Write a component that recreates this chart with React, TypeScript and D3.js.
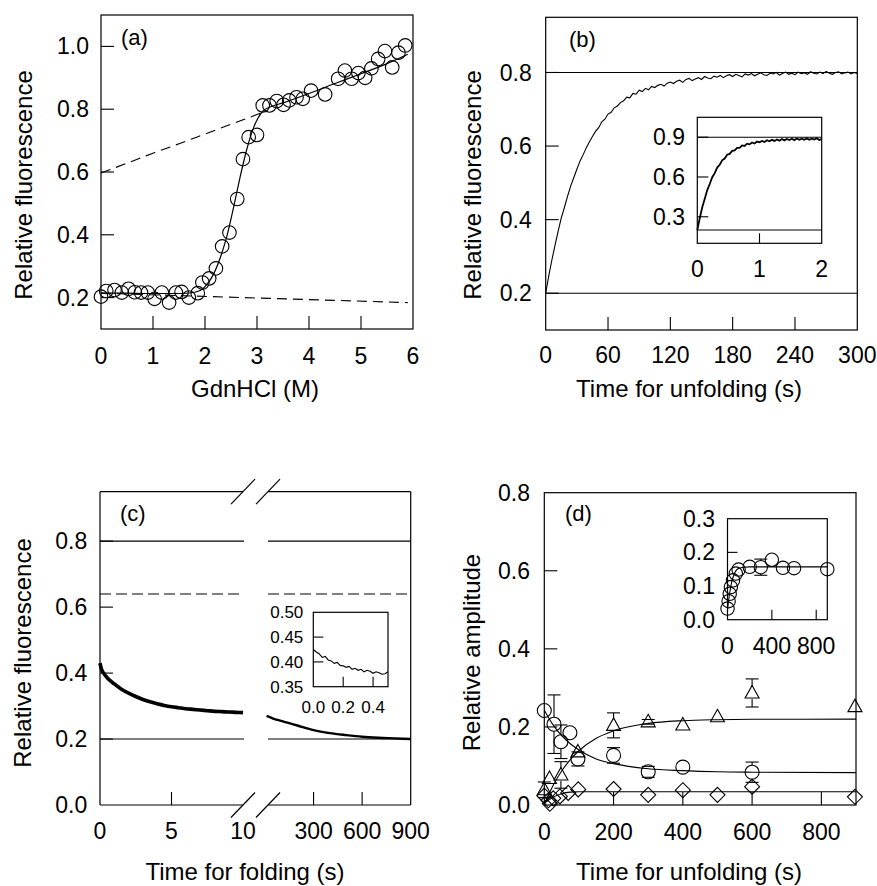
import React from "react";
import * as d3 from "d3";

const FONT = '"Liberation Sans", Arial, Helvetica, sans-serif';

// ---------------- Panel (a) ----------------
const aGdn = [0, 0.1, 0.26, 0.4, 0.53, 0.65, 0.77, 0.9, 1.03, 1.17, 1.31, 1.44, 1.55, 1.69, 1.86, 1.95, 2.08, 2.21, 2.33, 2.47, 2.62, 2.73, 2.84, 3.0, 3.11, 3.24, 3.38, 3.51, 3.62, 3.76, 3.88, 4.04, 4.31, 4.56, 4.69, 4.82, 4.95, 5.08, 5.2, 5.33, 5.46, 5.6, 5.72, 5.85];
const aFluor = [0.203, 0.221, 0.224, 0.216, 0.228, 0.217, 0.216, 0.216, 0.196, 0.216, 0.184, 0.216, 0.218, 0.2, 0.214, 0.248, 0.261, 0.293, 0.363, 0.407, 0.514, 0.641, 0.711, 0.718, 0.812, 0.812, 0.826, 0.814, 0.828, 0.838, 0.833, 0.859, 0.847, 0.897, 0.923, 0.897, 0.915, 0.9, 0.93, 0.96, 0.985, 0.933, 0.98, 1.003];
const aFitGdn = [0, 0.5, 1, 1.5, 1.8, 2.0, 2.15, 2.3, 2.42, 2.54, 2.67, 2.8, 2.92, 3.02, 3.12, 3.25, 3.5, 4, 4.5, 5, 5.5, 5.9];
const aFitFluor = [0.215, 0.214, 0.213, 0.213, 0.217, 0.235, 0.27, 0.33, 0.395, 0.48, 0.58, 0.67, 0.735, 0.772, 0.795, 0.807, 0.82, 0.85, 0.882, 0.913, 0.945, 0.975];
const aUnfBaseGdn = [0, 0.5, 1, 1.5, 2, 2.5, 3, 3.15];
const aUnfBaseFluor = [0.597, 0.628, 0.66, 0.69, 0.721, 0.752, 0.783, 0.793];
const aNatBaseGdn = [0, 5.9];
const aNatBaseFluor = [0.214, 0.184];
const aXTicks = [0, 1, 2, 3, 4, 5, 6];
const aYTicks = [0.2, 0.4, 0.6, 0.8, 1.0];

// ---------------- Panel (b) ----------------
const bTraceStep = 3;
const bTrace = [
  0.200, 0.248, 0.291, 0.331, 0.369, 0.405, 0.433, 0.463, 0.491, 0.514,
  0.537, 0.559, 0.576, 0.595, 0.611, 0.626, 0.640, 0.650, 0.666, 0.673,
  0.687, 0.692, 0.704, 0.709, 0.718, 0.723, 0.733, 0.731, 0.743, 0.741,
  0.752, 0.748, 0.757, 0.753, 0.762, 0.759, 0.765, 0.768, 0.763, 0.771,
  0.774, 0.770, 0.776, 0.779, 0.773, 0.781, 0.784, 0.778, 0.782, 0.786,
  0.781, 0.789, 0.785, 0.783, 0.790, 0.787, 0.792, 0.786, 0.791, 0.794,
  0.789, 0.795, 0.792, 0.788, 0.796, 0.793, 0.797, 0.791, 0.795, 0.799,
  0.794, 0.792, 0.798, 0.796, 0.800, 0.793, 0.797, 0.801, 0.795, 0.798,
  0.794, 0.801, 0.797, 0.799, 0.795, 0.802, 0.798, 0.796, 0.801, 0.797,
  0.803, 0.798, 0.795, 0.800, 0.802, 0.796, 0.799, 0.801, 0.796, 0.800, 0.797,
];
const bLevels = [0.2, 0.8];
const bXTicks = [0, 60, 120, 180, 240, 300];
const bYTicks = [0.2, 0.4, 0.6, 0.8];
const bInsetStep = 0.04;
const bInset = [
  0.200, 0.291, 0.372, 0.436, 0.501, 0.547, 0.598, 0.629, 0.671, 0.692,
  0.726, 0.739, 0.768, 0.774, 0.797, 0.801, 0.820, 0.819, 0.838, 0.834,
  0.851, 0.846, 0.860, 0.852, 0.867, 0.861, 0.872, 0.864, 0.877, 0.869,
  0.880, 0.872, 0.883, 0.874, 0.886, 0.876, 0.887, 0.879, 0.888, 0.878,
  0.890, 0.880, 0.889, 0.881, 0.891, 0.880, 0.889, 0.882, 0.892, 0.879, 0.887,
];
const bInsetLevels = [0.2, 0.9];
const bInsetXTicks = [0, 1, 2];
const bInsetYTicks = [0.3, 0.6, 0.9];

// ---------------- Panel (c) ----------------
const cLeftT = [0, 0.1, 0.25, 0.5, 1, 1.5, 2, 2.5, 3, 3.5, 4, 4.5, 5, 5.5, 6, 6.5, 7, 7.5, 8, 8.5, 9, 9.5, 10];
const cLeftF = [0.43, 0.412, 0.4, 0.386, 0.367, 0.351, 0.339, 0.329, 0.32, 0.313, 0.307, 0.302, 0.298, 0.295, 0.292, 0.29, 0.288, 0.286, 0.284, 0.283, 0.282, 0.281, 0.28];
const cRightT = [10, 50, 100, 150, 200, 300, 400, 500, 600, 700, 800, 900];
const cRightF = [0.27, 0.262, 0.255, 0.248, 0.241, 0.227, 0.218, 0.212, 0.207, 0.204, 0.202, 0.2];
const cSolidLevels = [0.2, 0.8];
const cDashedLevel = 0.64;
const cLeftTicks = [0, 5, 10];
const cRightTicks = [300, 600, 900];
const cYTicks = [0, 0.2, 0.4, 0.6, 0.8];
const cInsetStep = 0.02;
const cInset = [0.425, 0.42, 0.416, 0.409, 0.411, 0.404, 0.402, 0.397, 0.399, 0.393, 0.392, 0.389, 0.391, 0.385, 0.387, 0.383, 0.385, 0.38, 0.383, 0.381, 0.377, 0.38, 0.378, 0.375, 0.376, 0.38];
const cInsetXTicks = [0, 0.2, 0.4];
const cInsetYTicks = [0.35, 0.4, 0.45, 0.5];

// ---------------- Panel (d) ----------------
const dCircT = [0, 28, 48, 74, 97, 200, 300, 400, 600];
const dCircA = [0.242, 0.207, 0.162, 0.185, 0.118, 0.127, 0.085, 0.097, 0.084];
const dCircErr = [0, 0.075, 0.043, 0, 0.018, 0.02, 0.014, 0, 0.026];
const dTriT = [0, 15, 48, 97, 200, 300, 400, 500, 600, 897];
const dTriA = [0.039, 0.068, 0.077, 0.136, 0.204, 0.213, 0.205, 0.226, 0.287, 0.252];
const dTriErr = [0.02, 0, 0.034, 0, 0.032, 0.006, 0, 0, 0.036, 0];
const dDiaT = [0, 12, 16, 26, 45, 69, 98, 200, 300, 400, 500, 600, 897];
const dDiaA = [0.024, 0.012, 0.003, 0.017, 0.022, 0.031, 0.04, 0.041, 0.026, 0.038, 0.026, 0.047, 0.021];
const dFitT = [0, 25, 50, 75, 100, 150, 200, 300, 400, 500, 600, 900];
const dCircFit = [0.243, 0.206, 0.178, 0.157, 0.141, 0.118, 0.106, 0.093, 0.088, 0.085, 0.084, 0.083];
const dTriFit = [0.0, 0.049, 0.087, 0.116, 0.139, 0.171, 0.19, 0.209, 0.216, 0.2185, 0.2195, 0.22];
const dDiaFit = [0.004, 0.02, 0.029, 0.033, 0.034, 0.034, 0.034, 0.034, 0.034, 0.034, 0.034, 0.034];
const dXTicks = [0, 200, 400, 600, 800];
const dYTicks = [0, 0.2, 0.4, 0.6, 0.8];
const dInT = [0, 10, 20, 30, 50, 75, 100, 200, 300, 400, 500, 600, 900];
const dInA = [0.033, 0.055, 0.077, 0.097, 0.117, 0.137, 0.149, 0.157, 0.156, 0.178, 0.154, 0.153, 0.15];
const dInErr = [0, 0, 0, 0, 0, 0, 0, 0, 0.024, 0, 0, 0, 0];
const dInFitT = [0, 20, 40, 60, 80, 100, 150, 200, 900];
const dInFit = [0.03, 0.08, 0.115, 0.135, 0.147, 0.152, 0.156, 0.157, 0.157];
const dInXTicks = [0, 400, 800];
const dInYTicks = [0, 0.1, 0.2, 0.3];

type Sc = d3.ScaleLinear<number, number>;

function linePath(xs: number[], ys: number[], sx: Sc, sy: Sc, curve: d3.CurveFactory = d3.curveLinear) {
  const pts = xs.map((x, i) => [x, ys[i]] as [number, number]);
  return d3.line<[number, number]>().x((d) => sx(d[0])).y((d) => sy(d[1])).curve(curve)(pts) || "";
}
function stepPath(step: number, ys: number[], sx: Sc, sy: Sc) {
  return linePath(ys.map((_, i) => i * step), ys, sx, sy);
}

const TL = 13;

function YTicks({ sy, ticks, x, len = TL }: any) {
  return <g>{ticks.map((t: number, i: number) => <line key={i} x1={x} x2={x + len} y1={sy(t)} y2={sy(t)} stroke="#000" strokeWidth={1.1} />)}</g>;
}
function XTicks({ sx, ticks, y, len = TL }: any) {
  return <g>{ticks.map((t: number, i: number) => <line key={i} x1={sx(t)} x2={sx(t)} y1={y} y2={y - len} stroke="#000" strokeWidth={1.1} />)}</g>;
}
function YLabels({ sy, ticks, x, fmt, fs = 23 }: any) {
  return <g>{ticks.map((t: number, i: number) => <text key={i} x={x} y={sy(t)} dy="0.35em" textAnchor="end" fontSize={fs}>{fmt(t)}</text>)}</g>;
}
function XLabels({ sx, ticks, y, fmt, fs = 23 }: any) {
  return <g>{ticks.map((t: number, i: number) => <text key={i} x={sx(t)} y={y} textAnchor="middle" fontSize={fs}>{fmt(t)}</text>)}</g>;
}
function Box({ sx, sy }: any) {
  const [x0, x1] = sx.range();
  const [y0, y1] = sy.range();
  return <rect x={Math.min(x0, x1)} y={Math.min(y0, y1)} width={Math.abs(x1 - x0)} height={Math.abs(y1 - y0)} fill="none" stroke="#000" strokeWidth={1.2} />;
}
function HLine({ sx, sy, v, dash, x0, x1 }: any) {
  const r = sx.range();
  return <line x1={x0 ?? r[0]} x2={x1 ?? r[1]} y1={sy(v)} y2={sy(v)} stroke="#000" strokeWidth={1.1} strokeDasharray={dash} />;
}

const f1 = d3.format(".1f");
const f2 = d3.format(".2f");
const fi = d3.format("d");

function triPath(cx: number, cy: number) {
  return `M${cx},${cy - 7.5}L${cx + 7},${cy + 5}L${cx - 7},${cy + 5}Z`;
}
function diaPath(cx: number, cy: number) {
  return `M${cx},${cy - 7.5}L${cx + 7.5},${cy}L${cx},${cy + 7.5}L${cx - 7.5},${cy}Z`;
}
function ErrBars({ xs, ys, es, sx, sy, off }: any) {
  return (
    <g stroke="#000" strokeWidth={1.1}>
      {xs.map((x: number, i: number) => {
        if (!es[i]) return null;
        const cx = sx(x), cy = sy(ys[i]);
        const top = sy(ys[i] + es[i]), bot = sy(ys[i] - es[i]);
        return (
          <g key={i}>
            {cy - off > top && <line x1={cx} x2={cx} y1={top} y2={cy - off} />}
            <line x1={cx - 6.5} x2={cx + 6.5} y1={top} y2={top} />
            {cy + off < bot && <line x1={cx} x2={cx} y1={cy + off} y2={bot} />}
            <line x1={cx - 6.5} x2={cx + 6.5} y1={bot} y2={bot} />
          </g>
        );
      })}
    </g>
  );
}

export default function App() {
  const aSx = d3.scaleLinear().domain([0, 6]).range([101, 413]);
  const aSy = d3.scaleLinear().domain([0.1, 1.1]).range([329, 15]);

  const bSx = d3.scaleLinear().domain([0, 300]).range([545.7, 857.3]);
  const bSy = d3.scaleLinear().domain([0.1, 0.95]).range([330, 17.3]);
  const biSx = d3.scaleLinear().domain([0, 2]).range([697.3, 821.7]);
  const biSy = d3.scaleLinear().domain([0.1, 1.05]).range([243.3, 117.3]);

  const cSxL = d3.scaleLinear().domain([0, 10]).range([100, 243]);
  const cSxR = d3.scaleLinear().domain([0, 900]).range([265, 410.7]);
  const cSy = d3.scaleLinear().domain([0, 0.95]).range([805, 491.7]);
  const ciSx = d3.scaleLinear().domain([0, 0.5]).range([313.3, 388]);
  const ciSy = d3.scaleLinear().domain([0.35, 0.5]).range([686.7, 612.3]);

  const dSx = d3.scaleLinear().domain([0, 900]).range([544.3, 856]);
  const dSy = d3.scaleLinear().domain([0, 0.8]).range([805, 492.7]);
  const diSx = d3.scaleLinear().domain([0, 900]).range([727.5, 827.3]);
  const diSy = d3.scaleLinear().domain([0, 0.3]).range([619.7, 518.7]);

  const cL0 = 100, cL1 = 243, cR0 = 268, cR1 = 410.7;
  const cTop = cSy(0.95), cBot = cSy(0);

  const slash = (cx: number, cy: number, k: string) => (
    <line key={k} x1={cx - 12} y1={cy + 12.5} x2={cx + 12} y2={cy - 12.5} stroke="#000" strokeWidth={1.2} />
  );

  return (
    <svg width={877} height={886} style={{ position: "absolute", left: 0, top: 0, background: "#fff" }} fontFamily={FONT}>
      <rect x={0} y={0} width={877} height={886} fill="#fff" />

      {/* ============ (a) ============ */}
      <g>
        <Box sx={aSx} sy={aSy} />
        <YTicks sy={aSy} ticks={aYTicks} x={101} />
        <XTicks sx={aSx} ticks={aXTicks.slice(1, -1)} y={329} />
        <YLabels sy={aSy} ticks={aYTicks} x={89} fmt={f1} />
        <XLabels sx={aSx} ticks={aXTicks} y={364} fmt={fi} />
        <path d={linePath(aUnfBaseGdn, aUnfBaseFluor, aSx, aSy, d3.curveMonotoneX)} fill="none" stroke="#000" strokeWidth={1.1} strokeDasharray="10 6" />
        <path d={linePath(aNatBaseGdn, aNatBaseFluor, aSx, aSy)} fill="none" stroke="#000" strokeWidth={1.1} strokeDasharray="10 6" />
        <path d={linePath(aFitGdn, aFitFluor, aSx, aSy, d3.curveMonotoneX)} fill="none" stroke="#000" strokeWidth={1.2} />
        {aGdn.map((x, i) => (
          <circle key={i} cx={aSx(x)} cy={aSy(aFluor[i])} r={6.8} fill="none" stroke="#000" strokeWidth={1.1} />
        ))}
        <text x={121} y={45} fontSize={22}>(a)</text>
        <text transform="translate(32,185) rotate(-90)" textAnchor="middle" fontSize={24}>Relative fluorescence</text>
        <text x={255} y={397} textAnchor="middle" fontSize={24}>GdnHCl (M)</text>
      </g>

      {/* ============ (b) ============ */}
      <g>
        <Box sx={bSx} sy={bSy} />
        <YTicks sy={bSy} ticks={bYTicks} x={545.7} />
        <XTicks sx={bSx} ticks={bXTicks.slice(1, -1)} y={330} />
        <YLabels sy={bSy} ticks={bYTicks} x={531.7} fmt={f1} />
        <XLabels sx={bSx} ticks={bXTicks} y={363} fmt={fi} />
        {bLevels.map((v, i) => <HLine key={i} sx={bSx} sy={bSy} v={v} />)}
        <path d={stepPath(bTraceStep, bTrace, bSx, bSy)} fill="none" stroke="#000" strokeWidth={1.1} />
        <rect x={697.3} y={117.3} width={124.4} height={126} fill="#fff" stroke="#000" strokeWidth={1.2} />
        <YTicks sy={biSy} ticks={bInsetYTicks} x={697.3} len={11} />
        <XTicks sx={biSx} ticks={[1]} y={243.3} len={10} />
        {bInsetLevels.map((v, i) => <HLine key={i} sx={biSx} sy={biSy} v={v} />)}
        <path d={stepPath(bInsetStep, bInset, biSx, biSy)} fill="none" stroke="#000" strokeWidth={1.8} />
        <YLabels sy={biSy} ticks={bInsetYTicks} x={685} fmt={f1} />
        <XLabels sx={biSx} ticks={bInsetXTicks} y={277} fmt={fi} />
        <text x={569} y={47} fontSize={22}>(b)</text>
        <text transform="translate(481,185) rotate(-90)" textAnchor="middle" fontSize={24}>Relative fluorescence</text>
        <text x={689} y={397} textAnchor="middle" fontSize={24}>Time for unfolding (s)</text>
      </g>

      {/* ============ (c) ============ */}
      <g>
        <g stroke="#000" strokeWidth={1.2}>
          <line x1={cL0} x2={cL0} y1={cTop} y2={cBot} />
          <line x1={cR1} x2={cR1} y1={cTop} y2={cBot} />
          <line x1={cL0} x2={cL1} y1={cTop} y2={cTop} />
          <line x1={cR0} x2={cR1} y1={cTop} y2={cTop} />
          <line x1={cL0} x2={cL1} y1={cBot} y2={cBot} />
          <line x1={cR0} x2={cR1} y1={cBot} y2={cBot} />
        </g>
        {slash(cL1, cTop, "s1")}
        {slash(cR0, cTop, "s2")}
        {slash(cL1, cBot, "s3")}
        {slash(cR0, cBot, "s4")}
        <YTicks sy={cSy} ticks={cYTicks.slice(1)} x={cL0} />
        <XTicks sx={cSxL} ticks={[5]} y={cBot} />
        <XTicks sx={cSxR} ticks={[300, 600]} y={cBot} />
        <YLabels sy={cSy} ticks={cYTicks} x={87.3} fmt={f1} />
        <XLabels sx={cSxL} ticks={cLeftTicks} y={839} fmt={fi} />
        <XLabels sx={cSxR} ticks={cRightTicks} y={839} fmt={fi} />
        {cSolidLevels.map((v, i) => (
          <g key={i}>
            <HLine sx={cSxL} sy={cSy} v={v} x0={cL0} x1={cL1 + 1} />
            <HLine sx={cSxR} sy={cSy} v={v} x0={cR0} x1={cR1} />
          </g>
        ))}
        <HLine sx={cSxL} sy={cSy} v={cDashedLevel} x0={cL0} x1={cL1 + 1} dash="11 5" />
        <HLine sx={cSxR} sy={cSy} v={cDashedLevel} x0={cR0} x1={cR1} dash="11 5" />
        <path d={linePath(cLeftT, cLeftF, cSxL, cSy, d3.curveMonotoneX)} fill="none" stroke="#000" strokeWidth={3.6} />
        <path d={linePath(cRightT, cRightF, cSxR, cSy, d3.curveMonotoneX)} fill="none" stroke="#000" strokeWidth={2.4} />
        <rect x={313.3} y={612.3} width={74.7} height={74.4} fill="#fff" stroke="#000" strokeWidth={1.2} />
        <YTicks sy={ciSy} ticks={[0.4, 0.45]} x={313.3} len={10} />
        <XTicks sx={ciSx} ticks={[0.2, 0.4]} y={686.7} len={10} />
        <path d={stepPath(cInsetStep, cInset, ciSx, ciSy)} fill="none" stroke="#000" strokeWidth={1.1} />
        <YLabels sy={ciSy} ticks={cInsetYTicks} x={303.3} fmt={f2} fs={17} />
        <XLabels sx={ciSx} ticks={cInsetXTicks} y={713.3} fmt={f1} fs={17} />
        <text x={120} y={521} fontSize={22}>(c)</text>
        <text transform="translate(31,653) rotate(-90)" textAnchor="middle" fontSize={24}>Relative fluorescence</text>
        <text x={245} y={880} textAnchor="middle" fontSize={24}>Time for folding (s)</text>
      </g>

      {/* ============ (d) ============ */}
      <g>
        <Box sx={dSx} sy={dSy} />
        <YTicks sy={dSy} ticks={dYTicks.slice(1, -1)} x={544.3} />
        <XTicks sx={dSx} ticks={dXTicks.slice(1)} y={805} />
        <YLabels sy={dSy} ticks={dYTicks} x={530} fmt={f1} />
        <XLabels sx={dSx} ticks={dXTicks} y={840} fmt={fi} />
        <g fill="none" stroke="#000" strokeWidth={1.1}>
          <path d={linePath(dFitT, dCircFit, dSx, dSy, d3.curveMonotoneX)} />
          <path d={linePath(dFitT, dTriFit, dSx, dSy, d3.curveMonotoneX)} />
          <path d={linePath(dFitT, dDiaFit, dSx, dSy, d3.curveMonotoneX)} />
        </g>
        <ErrBars xs={dCircT} ys={dCircA} es={dCircErr} sx={dSx} sy={dSy} off={7} />
        <ErrBars xs={dTriT} ys={dTriA} es={dTriErr} sx={dSx} sy={dSy} off={6} />
        <g fill="none" stroke="#000" strokeWidth={1.1}>
          {dCircT.map((t, i) => <circle key={"c" + i} cx={dSx(t)} cy={dSy(dCircA[i])} r={7} />)}
          {dTriT.map((t, i) => <path key={"t" + i} d={triPath(dSx(t), dSy(dTriA[i]))} />)}
          {dDiaT.map((t, i) => <path key={"d" + i} d={diaPath(dSx(t), dSy(dDiaA[i]))} />)}
        </g>
        <rect x={727.5} y={518.7} width={99.8} height={101} fill="#fff" stroke="#000" strokeWidth={1.2} />
        <YTicks sy={diSy} ticks={[0.2]} x={727.5} len={10} />
        <XTicks sx={diSx} ticks={[400, 800]} y={619.7} len={10} />
        <path d={linePath(dInFitT, dInFit, diSx, diSy, d3.curveMonotoneX)} fill="none" stroke="#000" strokeWidth={1.1} />
        <ErrBars xs={dInT} ys={dInA} es={dInErr} sx={diSx} sy={diSy} off={6.7} />
        {dInT.map((t, i) => <circle key={i} cx={diSx(t)} cy={diSy(dInA[i])} r={6.7} fill="none" stroke="#000" strokeWidth={1.1} />)}
        <YLabels sy={diSy} ticks={dInYTicks} x={715} fmt={f1} />
        <XLabels sx={diSx} ticks={dInXTicks} y={653.5} fmt={fi} />
        <text x={565} y={521} fontSize={22}>(d)</text>
        <text transform="translate(479.5,652.5) rotate(-90)" textAnchor="middle" fontSize={24}>Relative amplitude</text>
        <text x={689} y={880} textAnchor="middle" fontSize={24}>Time for unfolding (s)</text>
      </g>
    </svg>
  );
}
